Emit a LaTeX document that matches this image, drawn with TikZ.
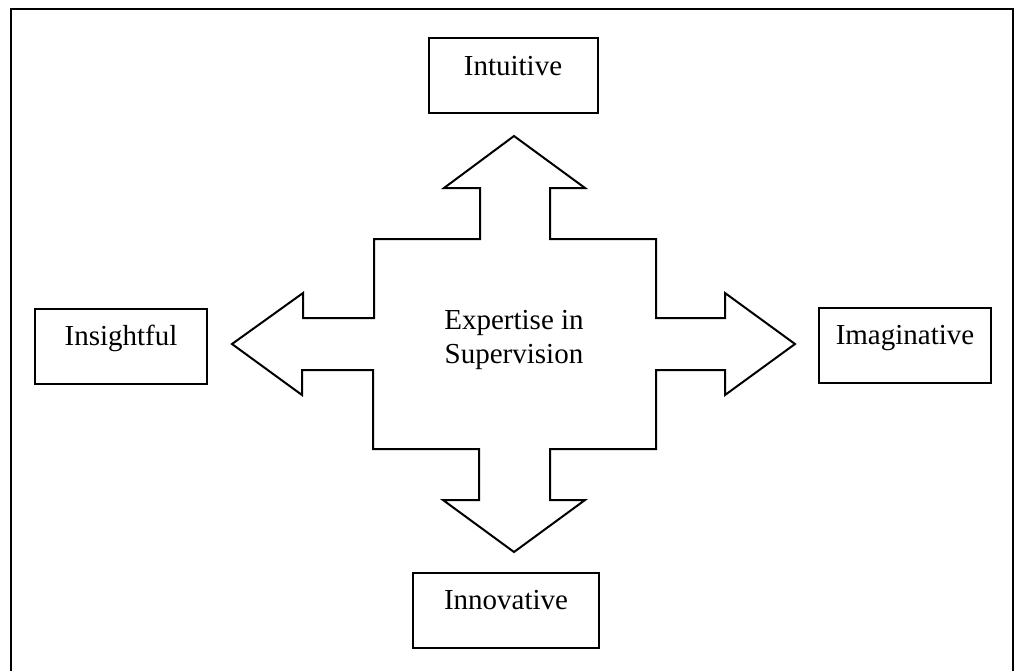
\documentclass[tikz,border=0pt]{standalone}
\usepackage{fontspec}
\setmainfont{Liberation Serif}
\usepackage{tikz}
\usetikzlibrary{calc}

\tikzset{
  labelbox/.style={draw, line width=1pt, inner sep=0pt, text height=18.5pt, text depth=19pt,
    font=\fontsize{14.5}{17}\selectfont},
  crossline/.style={line width=1pt, line join=miter}
}

\begin{document}
\begin{tikzpicture}
\begin{scope}[x=0.5pt, y=-0.5pt]
\useasboundingbox (0,0) rectangle (1016,671);

% frame
\draw[line width=1.3pt] (11,671)--(11,9)--(1013,9)--(1013,671);

% the four arrows round the middle
\coordinate (c) at (514,344);
\draw[crossline] ($(c)+(0,-208)$) -- ++(71,52) -- ++(-35,0) -- ++(0,51)
  -- ++(106,0) -- ++(0,79) -- ++(69,0) -- ++(0,-25) -- ($(c)+(281,0)$)
  -- ++(-70,51) -- ++(0,-25) -- ++(-69,0) -- ++(0,79)
  -- ++(-106,0) -- ++(0,51) -- ++(35,0) -- ($(c)+(0,208)$)
  -- ++(-71,-52) -- ++(36,0) -- ++(0,-51)
  -- ++(-106,0) -- ++(0,-79) -- ++(-71,0) -- ++(0,25) -- ($(c)+(-282,0)$)
  -- ++(71,-51) -- ++(0,25) -- ++(71,0) -- ++(0,-79)
  -- ++(106,0) -- ++(0,-51) -- ++(-36,0) -- cycle;

\node[align=center, font=\fontsize{14.5}{17}\selectfont] (core) at (514,340) {Expertise in\\Supervision};

% boxes
\node[labelbox, minimum width=84.5pt] (intuitive) at (513,75.5) {Intuitive};
\node[labelbox, minimum width=86pt] (insightful) at (121,346) {Insightful};
\node[labelbox, minimum width=86pt] (imaginative) at (905,345) {Imaginative};
\node[labelbox, minimum width=93pt] (innovative) at (506,610) {Innovative};
\end{scope}
\end{tikzpicture}
\end{document}
